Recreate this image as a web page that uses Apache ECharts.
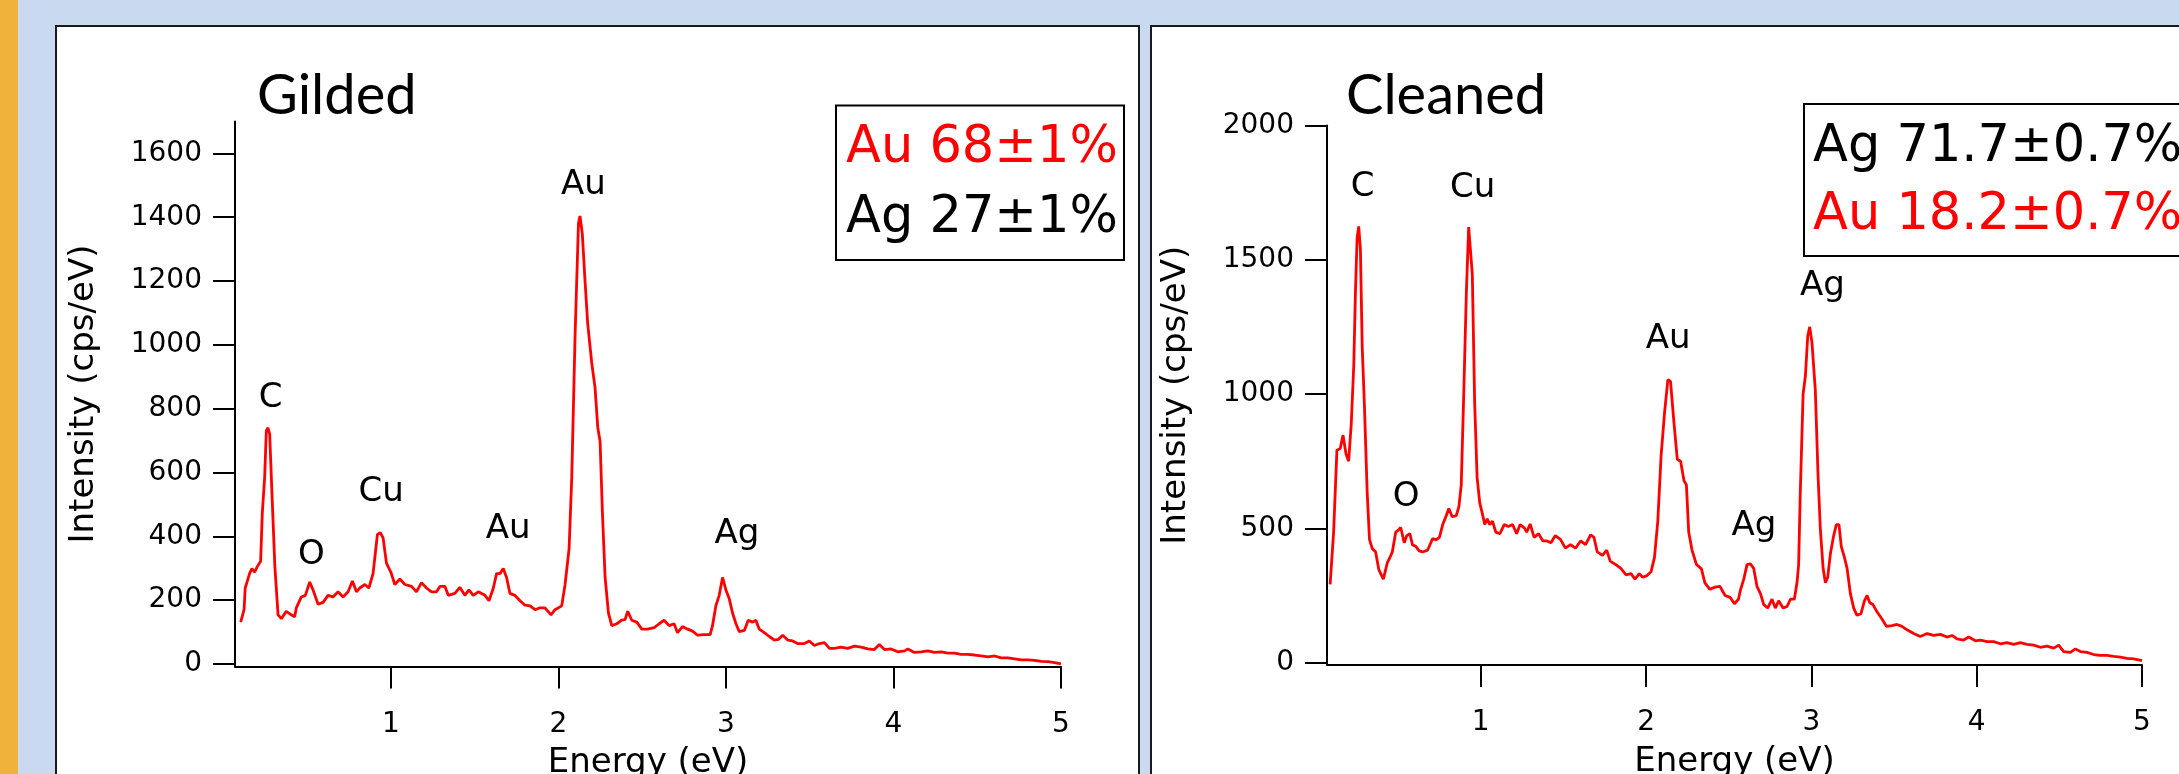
<!DOCTYPE html>
<html>
<head>
<meta charset="utf-8">
<script src="https://cdn.jsdelivr.net/npm/echarts@6/dist/echarts.min.js"></script>
<style>
body{margin:0;width:2179px;height:774px;overflow:hidden;background:#c9daf0;position:relative;}
.strip{position:absolute;left:0;top:0;width:18px;height:774px;background:#efb33b;}
.panel{position:absolute;top:25px;height:800px;background:#fff;border:2px solid #1a1a1a;box-sizing:border-box;}
#p1{left:55px;width:1085px;}
#p2{left:1150px;width:1100px;}
#chart{position:absolute;left:0;top:0;width:2179px;height:774px;}
</style>
</head>
<body>
<div class="strip"></div>
<div class="panel" id="p1"></div>
<div class="panel" id="p2"></div>
<div id="chart"></div>
<script>

// ---- Gilded spectrum (energy in eV / intensity in cps/eV) ----
var gilded_energy = [0.104,0.124,0.131,0.157,0.171,0.187,0.203,0.223,0.233,0.247,0.257,0.267,0.277,0.291,0.308,0.327,0.347,0.376,0.406,0.426,0.436,0.466,0.490,0.516,0.536,0.566,0.596,0.625,0.655,0.685,0.715,0.745,0.771,0.795,0.815,0.845,0.869,0.894,0.920,0.938,0.954,0.974,1.000,1.024,1.054,1.084,1.124,1.153,1.183,1.213,1.243,1.273,1.293,1.323,1.343,1.382,1.412,1.442,1.466,1.492,1.522,1.562,1.586,1.612,1.631,1.651,1.671,1.691,1.711,1.741,1.771,1.801,1.831,1.861,1.890,1.920,1.956,1.980,2.020,2.040,2.064,2.080,2.100,2.120,2.129,2.143,2.159,2.175,2.199,2.219,2.235,2.249,2.263,2.279,2.299,2.319,2.349,2.378,2.398,2.414,2.438,2.468,2.498,2.532,2.572,2.602,2.631,2.661,2.691,2.711,2.741,2.771,2.801,2.831,2.871,2.906,2.920,2.940,2.960,2.980,3.000,3.020,3.040,3.060,3.080,3.110,3.133,3.159,3.179,3.199,3.229,3.259,3.289,3.313,3.339,3.369,3.398,3.428,3.468,3.498,3.528,3.558,3.588,3.618,3.647,3.687,3.727,3.767,3.807,3.847,3.886,3.916,3.946,3.986,4.026,4.066,4.086,4.125,4.165,4.205,4.245,4.285,4.325,4.365,4.404,4.444,4.484,4.524,4.564,4.604,4.643,4.683,4.723,4.763,4.803,4.843,4.882,4.922,4.962,5.000];
var gilded_intensity = [131,170,238,283,299,288,305,322,473,585,731,740,720,529,305,154,142,165,154,148,176,210,215,257,232,187,193,215,210,226,210,226,260,226,238,249,238,283,406,411,395,316,288,249,266,249,243,226,255,238,226,226,243,243,215,221,240,215,232,215,226,215,198,238,283,283,299,271,221,215,198,184,182,170,176,176,154,170,182,249,361,585,1034,1381,1404,1348,1202,1067,944,866,742,697,473,271,159,120,126,137,139,165,137,131,109,109,114,126,137,120,126,98,117,109,103,90,92,92,120,182,215,271,232,204,159,126,101,105,137,131,137,109,98,86,75,77,90,75,72,64,64,72,58,64,67,49,49,53,49,56,53,47,45,61,45,47,38,41,47,36,38,41,36,38,34,34,30,30,28,25,22,25,19,19,16,13,13,11,8,7,4,0];

// ---- Cleaned spectrum ----
var cleaned_energy = [0.089,0.110,0.130,0.150,0.167,0.185,0.201,0.217,0.232,0.242,0.252,0.262,0.272,0.283,0.297,0.313,0.327,0.343,0.364,0.384,0.411,0.435,0.451,0.465,0.486,0.502,0.516,0.537,0.553,0.571,0.587,0.608,0.628,0.648,0.679,0.709,0.730,0.750,0.770,0.791,0.807,0.827,0.852,0.868,0.882,0.896,0.913,0.927,0.937,0.949,0.963,0.978,0.994,1.010,1.024,1.039,1.055,1.071,1.091,1.116,1.142,1.167,1.193,1.217,1.238,1.262,1.278,1.299,1.323,1.350,1.376,1.400,1.425,1.451,1.482,1.512,1.543,1.573,1.604,1.634,1.665,1.685,1.705,1.736,1.762,1.783,1.817,1.848,1.878,1.909,1.933,1.959,1.980,2.006,2.030,2.051,2.071,2.091,2.112,2.132,2.148,2.169,2.189,2.209,2.230,2.244,2.258,2.278,2.305,2.335,2.356,2.386,2.417,2.447,2.478,2.508,2.535,2.559,2.571,2.591,2.611,2.631,2.651,2.671,2.692,2.712,2.736,2.762,2.782,2.802,2.829,2.853,2.873,2.897,2.913,2.923,2.933,2.950,2.964,2.978,2.990,3.004,3.024,3.040,3.054,3.071,3.085,3.099,3.115,3.135,3.151,3.167,3.181,3.200,3.216,3.236,3.256,3.276,3.300,3.321,3.337,3.353,3.373,3.397,3.427,3.454,3.488,3.518,3.548,3.579,3.619,3.659,3.700,3.740,3.780,3.821,3.851,3.881,3.921,3.952,3.992,4.022,4.063,4.103,4.143,4.183,4.224,4.264,4.304,4.345,4.385,4.425,4.466,4.496,4.526,4.567,4.597,4.627,4.667,4.708,4.748,4.788,4.829,4.869,4.909,4.950,5.000];
var cleaned_intensity = [291,486,791,797,847,777,750,892,1108,1378,1581,1624,1540,1176,946,635,459,426,412,345,311,372,392,412,486,493,503,446,473,480,439,432,416,412,419,462,457,466,514,547,574,543,547,581,662,973,1378,1622,1622,1446,973,689,595,554,514,535,514,527,486,480,514,507,514,480,514,503,486,516,466,480,453,453,446,473,459,426,439,426,453,439,476,466,412,399,419,378,365,351,327,331,311,331,318,324,338,392,527,770,932,1054,1047,892,757,750,676,662,486,419,365,349,297,273,281,284,250,243,219,236,270,311,365,368,351,284,257,216,203,236,203,230,203,209,236,236,297,365,635,1000,1068,1216,1250,1189,1014,703,500,351,297,318,405,473,514,514,432,392,351,257,203,176,182,230,250,223,216,189,162,135,138,142,135,122,108,97,108,101,105,95,101,88,84,95,81,84,78,78,70,74,68,74,68,65,57,61,54,65,41,38,51,41,38,30,27,27,23,20,16,14,7];

// axis ticks
var energy_ticks = [1, 2, 3, 4, 5];
var gilded_ticks = [0, 200, 400, 600, 800, 1000, 1200, 1400, 1600];
var cleaned_ticks = [0, 500, 1000, 1500, 2000];

// peak annotations: element, energy, intensity where the label sits
var gilded_peak_names = ['C', 'O', 'Cu', 'Au', 'Au', 'Ag'];
var gilded_peak_energy = [0.283, 0.526, 0.942, 1.701, 2.149, 3.066];
var gilded_peak_level = [843, 350, 549, 432, 1509, 415];

var cleaned_peak_names = ['C', 'O', 'Cu', 'Au', 'Ag', 'Ag'];
var cleaned_peak_energy = [0.285, 0.549, 0.951, 2.134, 2.653, 3.067];
var cleaned_peak_level = [1780, 628, 1778, 1215, 520, 1412];


var myChart = echarts.init(document.getElementById('chart'));

var black = '#000';
var font_family = 'DejaVu Sans';

function zip(xs, ys){
    return xs.map(function(x, i){ return [x, ys[i]]; });
}

// plain numbers, no thousands comma
function plain(v){
    return String(v);
}

function make_x(grid){
    return {
        gridIndex: grid,
        type: 'value',
        min: 0.07,
        max: 5,
        name: 'Energy (eV)',
        nameLocation: 'middle',
        nameGap: 80,
        nameTextStyle: {fontFamily: font_family, fontSize: 34, color: black},
        axisLine: {onZero: false, lineStyle: {color: black, width: 2}},
        axisTick: {show: true, inside: false, length: 22, lineStyle: {color: black, width: 2}, customValues: energy_ticks},
        axisLabel: {margin: 44, fontFamily: font_family, fontSize: 28, color: black, customValues: energy_ticks, formatter: plain},
        splitLine: {show: false}
    };
}

function make_y(grid, min, max, ticks){
    return {
        gridIndex: grid,
        type: 'value',
        min: min,
        max: max,
        name: 'Intensity (cps/eV)',
        nameLocation: 'middle',
        nameRotate: 90,
        nameGap: 134,
        nameTextStyle: {fontFamily: font_family, fontSize: 34, color: black},
        axisLine: {show: true, lineStyle: {color: black, width: 2}},
        axisTick: {show: true, inside: false, length: 22, lineStyle: {color: black, width: 2}, customValues: ticks},
        axisLabel: {margin: 33, fontFamily: font_family, fontSize: 28, color: black, customValues: ticks, formatter: plain},
        splitLine: {show: false}
    };
}

function spectrum(idx, data){
    return {
        type: 'line',
        xAxisIndex: idx,
        yAxisIndex: idx,
        data: data,
        showSymbol: false,
        symbol: 'none',
        lineStyle: {color: '#ff0000', width: 2.8},
        itemStyle: {color: '#ff0000'},
        z: 3
    };
}

// element names drawn at (energy, intensity) through the axes
function peak_labels(idx, names, xs, ys){
    return {
        type: 'custom',
        xAxisIndex: idx,
        yAxisIndex: idx,
        data: zip(xs, ys),
        silent: true,
        clip: false,
        renderItem: function(params, api){
            var p = api.coord([api.value(0), api.value(1)]);
            return {
                type: 'text',
                x: p[0],
                y: p[1] + 3,
                style: {
                    text: names[params.dataIndex],
                    fill: '#000',
                    font: '34px "DejaVu Sans"',
                    align: 'center',
                    verticalAlign: 'middle'
                }
            };
        },
        z: 4
    };
}

function txt(s, x, y, font, color){
    return {
        type: 'text', x: x, y: y, z: 20,
        style: {text: s, font: font, fill: color, textVerticalAlign: 'middle', verticalAlign: 'middle'}
    };
}

var option = {
    animation: false,
    backgroundColor: 'transparent',
    // no auto shrinking: the axis title runs off the bottom like in the slide
    grid: [
        {left: 235, top: 121.5, width: 826, height: 545, outerBoundsMode: 'none', containLabel: false},
        {left: 1327, top: 125.5, width: 815, height: 539.5, outerBoundsMode: 'none', containLabel: false}
    ],
    xAxis: [make_x(0), make_x(1)],
    yAxis: [make_y(0, -8, 1700, gilded_ticks), make_y(1, -9, 2000, cleaned_ticks)],
    series: [
        spectrum(0, zip(gilded_energy, gilded_intensity)),
        spectrum(1, zip(cleaned_energy, cleaned_intensity)),
        peak_labels(0, gilded_peak_names, gilded_peak_energy, gilded_peak_level),
        peak_labels(1, cleaned_peak_names, cleaned_peak_energy, cleaned_peak_level)
    ],
    graphic: [
        txt('Gilded', 257, 96, '56px Lato', '#000'),
        txt('Cleaned', 1346, 96, '56px Lato', '#000'),
        // composition boxes
        {type: 'rect', z: 10, shape: {x: 836, y: 105.5, width: 288, height: 154.5}, style: {fill: '#fff', stroke: '#000', lineWidth: 2}},
        txt('Au 68\u00b11%', 846, 149, '51px "DejaVu Sans"', '#ff0000'),
        txt('Ag 27\u00b11%', 846, 219, '51px "DejaVu Sans"', '#000'),
        {type: 'rect', z: 10, shape: {x: 1804, y: 104, width: 500, height: 152}, style: {fill: '#fff', stroke: '#000', lineWidth: 2}},
        txt('Ag 71.7\u00b10.7%', 1813, 147.5, '51px "DejaVu Sans"', '#000'),
        txt('Au 18.2\u00b10.7%', 1813, 216, '51px "DejaVu Sans"', '#ff0000')
    ]
};

myChart.setOption(option);

</script>
</body>
</html>
